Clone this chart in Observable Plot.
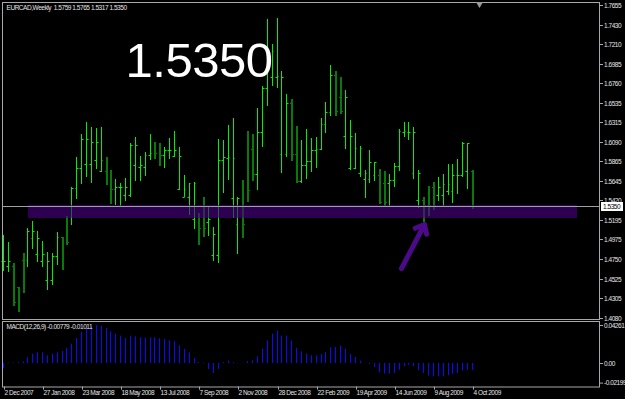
<!DOCTYPE html>
<html><head><meta charset="utf-8">
<script src="https://cdn.jsdelivr.net/npm/d3@7"></script>
<script src="https://cdn.jsdelivr.net/npm/@observablehq/plot@0.6"></script>
<style>
html,body{margin:0;padding:0;background:#000;}
#chart{width:625px;height:399px;background:#000;overflow:hidden;}
#chart svg{display:block;letter-spacing:-0.45px;overflow:visible;}
</style></head><body><div id="chart"></div>
<script>
// ---------- data ----------
const symbol = "EURCAD";
const period = "Weekly";
const firstWeek = "2007-12-02";
const open = [1.4723,1.4669,1.4669,1.4432,1.4738,1.4738,1.4990,1.4810,1.4723,1.4506,
1.4506,1.4784,1.4998,1.5226,1.5226,1.5558,1.5787,1.5836,1.5836,1.5882,
1.5759,1.5759,1.5730,1.5547,1.5570,1.5481,1.5481,1.5825,1.5805,1.5805,
1.5936,1.6034,1.6034,1.5936,1.5996,1.5928,1.5547,1.5462,1.5462,1.5203,
1.5203,1.5203,1.5176,1.4792,1.4792,1.5882,1.5901,1.5444,1.5150,1.5539,
1.6004,1.6004,1.5722,1.6206,1.6702,1.6835,1.6835,1.5947,1.5947,1.6537,
1.5947,1.5642,1.5821,1.5874,1.5996,1.6004,1.6294,1.6427,1.6854,1.6606,
1.6156,1.5794,1.5794,1.5730,1.5661,1.5661,1.5710,1.5710,1.5615,1.5615,
1.5650,1.5810,1.6199,1.6199,1.5730,1.5424,1.5424,1.5367,1.5570,1.5478,
1.5478,1.5527,1.5527,1.5707,1.5707,1.5759,1.5759];
const high = [1.5024,1.4944,1.4700,1.4432,1.4814,1.5100,1.5187,1.5070,1.4952,1.4826,
1.4814,1.5062,1.5004,1.5245,1.5570,1.5920,1.6179,1.6317,1.6256,1.6244,
1.6263,1.5913,1.5767,1.5661,1.5615,1.5672,1.6080,1.6148,1.5928,1.5973,
1.6176,1.6091,1.6073,1.6034,1.6137,1.6217,1.6034,1.5710,1.5622,1.5625,
1.5276,1.5462,1.5348,1.5119,1.6125,1.6111,1.6282,1.6368,1.5453,1.5653,
1.6214,1.6179,1.6477,1.6734,1.7491,1.7209,1.7503,1.6900,1.6637,1.6576,
1.6271,1.6111,1.6233,1.6134,1.6145,1.6359,1.6551,1.6969,1.6900,1.6828,
1.6679,1.6343,1.6191,1.6039,1.5767,1.5996,1.5862,1.5775,1.5759,1.5722,
1.5844,1.6233,1.6320,1.6313,1.6256,1.5767,1.5462,1.5584,1.5634,1.5691,
1.5722,1.5836,1.5836,1.5890,1.6084,1.6073,1.5765];
const low = [1.4615,1.4604,1.4215,1.4143,1.4364,1.4654,1.4864,1.4718,1.4654,1.4395,
1.4452,1.4684,1.4623,1.4909,1.5135,1.5439,1.5604,1.5684,1.5622,1.5775,
1.5748,1.5596,1.5378,1.5367,1.5341,1.5416,1.5462,1.5645,1.5645,1.5702,
1.5882,1.5890,1.5813,1.5787,1.5890,1.5920,1.5539,1.5455,1.5253,1.5089,
1.4909,1.5004,1.5016,1.4726,1.4700,1.5501,1.5653,1.5215,1.4806,1.4986,
1.5405,1.5636,1.5539,1.6034,1.6500,1.6734,1.6709,1.5737,1.5913,1.5874,
1.5622,1.5622,1.5661,1.5748,1.5787,1.5996,1.6194,1.6389,1.6389,1.6408,
1.6011,1.5767,1.5775,1.5687,1.5451,1.5622,1.5642,1.5378,1.5341,1.5348,
1.5576,1.5759,1.6142,1.6111,1.5664,1.5329,1.5176,1.5241,1.5310,1.5416,
1.5356,1.5478,1.5386,1.5493,1.5691,1.5547,1.5317];
const close = [1.4723,1.4723,1.4254,1.4254,1.4432,1.5070,1.5070,1.4990,1.4810,1.4723,
1.4784,1.4998,1.4940,1.4940,1.5558,1.5787,1.6122,1.6122,1.6084,1.6084,
1.5882,1.5730,1.5547,1.5570,1.5570,1.5570,1.6053,1.6053,1.5825,1.5936,
1.5958,1.5958,1.5936,1.5996,1.5996,1.5996,1.5928,1.5547,1.5615,1.5615,
1.5104,1.5104,1.5203,1.5032,1.5882,1.5920,1.5920,1.5901,1.5444,1.5150,
1.5539,1.5722,1.6206,1.6702,1.7125,1.7125,1.6840,1.6835,1.6537,1.5947,
1.5642,1.5821,1.5874,1.5996,1.6004,1.6294,1.6427,1.6854,1.6446,1.6446,
1.6606,1.6156,1.6016,1.6016,1.5737,1.5856,1.5856,1.5398,1.5398,1.5650,
1.5810,1.6214,1.6214,1.6206,1.6206,1.5730,1.5364,1.5364,1.5367,1.5570,
1.5604,1.5604,1.5710,1.5710,1.6073,1.6073,1.5350];
const macd = [-0.0060,0.0005,0.0005,0.0010,0.0020,0.0064,0.0105,0.0120,0.0120,0.0086,
0.0105,0.0120,0.0135,0.0172,0.0217,0.0280,0.0348,0.0393,0.0411,0.0426,
0.0419,0.0393,0.0355,0.0329,0.0307,0.0280,0.0307,0.0299,0.0288,0.0284,
0.0288,0.0288,0.0277,0.0269,0.0254,0.0243,0.0198,0.0157,0.0120,0.0056,
0.0011,-0.0005,-0.0067,-0.0112,-0.0067,0.0011,0.0026,0.0011,-0.0005,0.0003,
0.0019,0.0030,0.0075,0.0161,0.0254,0.0329,0.0363,0.0307,0.0307,0.0251,
0.0168,0.0131,0.0105,0.0086,0.0086,0.0101,0.0123,0.0176,0.0180,0.0194,
0.0157,0.0101,0.0067,0.0026,0.0002,-0.0011,-0.0045,-0.0105,-0.0120,-0.0120,
-0.0112,-0.0075,-0.0037,-0.0019,-0.0037,-0.0082,-0.0112,-0.0142,-0.0150,-0.0150,
-0.0150,-0.0138,-0.0123,-0.0112,-0.0082,-0.0075,-0.00779];
const macdSignalLast = -0.01011;
const macdParams = "12,26,9";
const priceTicks = [1.7655,1.7430,1.7210,1.6985,1.6760,1.6535,1.6315,1.6090,1.5865,1.5645,1.5420,1.5195,1.4975,1.4750,1.4525,1.4305,1.4080];
const macdTicks = [0.04261, 0, -0.02199];
const dateTicks = ["2007-12-02","2008-01-27","2008-03-23","2008-05-18","2008-07-13","2008-09-07","2008-11-02","2008-12-28","2009-02-22","2009-04-19","2009-06-14","2009-08-09","2009-10-04"];
const zone = [{from:"2008-01-07", to:"2010-03-03", top:1.5367, bottom:1.5220}];
const arrowNote = [{from:"2009-06-25", fromPrice:1.4646, to:"2009-07-27", toPrice:1.5150}];
const chartShift = ["2009-10-14"];

// ---------- build ----------
const start = new Date(firstWeek);
const bars = open.map((o, i) => ({
  date: d3.utcWeek.offset(start, i), open: o, high: high[i], low: low[i], close: close[i],
  down: close[i] < o, macd: macd[i]
}));
const last = bars[bars.length - 1];
const fmt4 = d => d.toFixed(4);
const header = `${symbol},${period}\u00a0 ${fmt4(last.open)} ${fmt4(last.high)} ${fmt4(last.low)} ${fmt4(last.close)}`;
const macdHeader = `MACD(${macdParams}) ${last.macd.toFixed(5)} ${macdSignalLast.toFixed(5)}`;
const xDomain = [d3.utcHour.offset(start, -34), d3.utcDay.offset(start, 854)];
const BRIGHT = "#00f000", DARK = "#087a08", GREY = "#a8a8a8", TXT = "#e4e4e4";
const smallFont = "'Liberation Sans',Arial,sans-serif";
const tickOff = 2.5 * 24; // hours

function barMarks(data, color, sw, dx) {
  return [
    Plot.ruleX(data, {x: "date", y1: "low", y2: "high", stroke: color, strokeWidth: sw, dx}),
    Plot.link(data, {x1: d => d3.utcHour.offset(d.date, -tickOff), x2: "date", y1: "open", y2: "open", stroke: color, strokeWidth: 1, dx}),
    Plot.link(data, {x1: "date", x2: d => d3.utcHour.offset(d.date, tickOff), y1: "close", y2: "close", stroke: color, strokeWidth: 1, dx})
  ];
}

const main = Plot.plot({
  width: 625, height: 320,
  marginLeft: 2, marginRight: 26, marginTop: 5, marginBottom: 2.5,
  style: {background: "#000", color: TXT, fontFamily: smallFont, fontSize: "6.5px"},
  x: {type: "utc", domain: xDomain, round: true, axis: null},
  y: {domain: [1.4080, 1.7655], round: true},
  marks: [
    ...barMarks(bars.filter(d => !d.down), BRIGHT, 1, 0),
    ...barMarks(bars.filter(d => d.down), DARK, 2, 0.5),
    Plot.rect(zone, {x1: d => new Date(d.from), x2: d => new Date(d.to), y1: "bottom", y2: "top", fill: "#4b0082", fillOpacity: 0.62}),
    Plot.ruleY([last.close], {stroke: "#a0a0a0", strokeWidth: 1}),
    Plot.frame({stroke: GREY, insetTop: -3, insetBottom: -1.5}),
    Plot.axisY(priceTicks, {anchor: "right", tickSize: 3, tickPadding: 1.5, tickFormat: fmt4, fill: TXT, stroke: GREY, fontSize: 6.5, label: null}),
    Plot.ruleY([last.close], {stroke: "#fff", strokeWidth: 9, insetLeft: 599, insetRight: -24}),
    Plot.text([last.close], {y: d => d, text: fmt4, frameAnchor: "right", dx: 3.5, textAnchor: "start", fill: "#000", fontSize: 6.5}),
    Plot.text([header], {frameAnchor: "top-left", dx: 4, dy: 2.5, lineAnchor: "middle", textAnchor: "start", fill: TXT, fontSize: 6.5}),
    Plot.text([fmt4(last.close)], {frameAnchor: "top-left", dx: 123, dy: 37, lineAnchor: "top", textAnchor: "start", fill: "#fff", fontSize: 49, fontFamily: "'Liberation Sans',Arial,sans-serif"}),
    Plot.arrow(arrowNote, {x1: d => new Date(d.from), y1: "fromPrice", x2: d => new Date(d.to), y2: "toPrice", stroke: "#4b0a8a", strokeWidth: 5, headLength: 3, headAngle: 80, strokeLinecap: "round", strokeLinejoin: "round"}),
    Plot.dot(chartShift, {x: d => new Date(d), frameAnchor: "top", dy: -1.5, symbol: "triangle", r: 2.6, rotate: 180, fill: "#9a9a9a", stroke: null})
  ]
});

const sub = Plot.plot({
  width: 625, height: 79,
  marginLeft: 2, marginRight: 26, marginTop: 5, marginBottom: 16.4,
  style: {background: "transparent", color: TXT, fontFamily: smallFont, fontSize: "6.5px"},
  x: {type: "utc", domain: xDomain, round: true},
  y: {domain: [-0.02199, 0.04261]},
  marks: [
    Plot.ruleX(bars, {x: "date", y1: 0, y2: "macd", stroke: "#0a0aff", strokeWidth: 1}),
    Plot.frame({stroke: GREY, insetTop: -4, insetBottom: -3.9}),
    Plot.axisY(macdTicks, {anchor: "right", tickSize: 3, tickPadding: 1.5, tickFormat: d => d === 0 ? "0.00" : d.toFixed(5), fill: TXT, stroke: GREY, fontSize: 6.5, label: null}),
    Plot.axisX(dateTicks.map(d => new Date(d)), {anchor: "bottom", tickSize: 3, tickPadding: 0, dy: 4, tickFormat: d3.utcFormat("%-d %b %Y"), textAnchor: "start", dx: 1, fill: TXT, stroke: GREY, fontSize: 6.5, label: null}),
    Plot.text([macdHeader], {frameAnchor: "top-left", dx: 4, dy: 1.5, lineAnchor: "middle", textAnchor: "start", fill: TXT, fontSize: 6.5})
  ]
});

const root = document.getElementById("chart");
root.appendChild(main);
root.appendChild(sub);
</script>
</body></html>
